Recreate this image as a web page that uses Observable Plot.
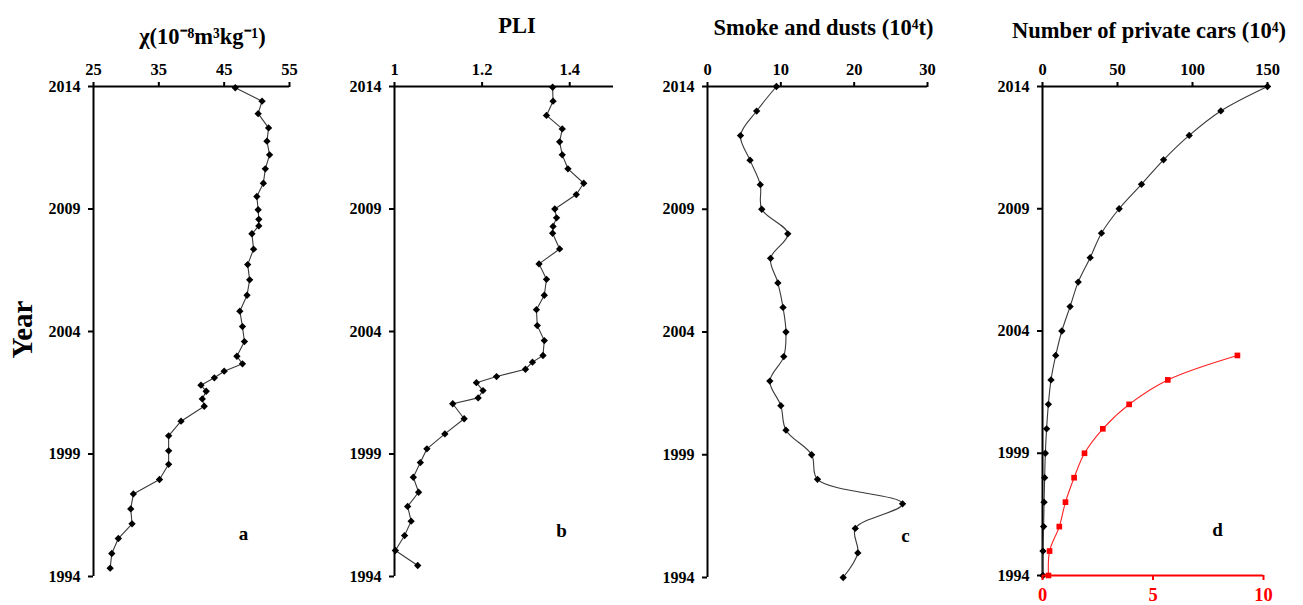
<!DOCTYPE html>
<html><head><meta charset="utf-8">
<script src="https://cdn.jsdelivr.net/npm/d3@7"></script>
<script src="https://cdn.jsdelivr.net/npm/@observablehq/plot@0.6"></script>
<style>
body{margin:0;background:#fff;}
#wrap{position:relative;width:1303px;height:605px;overflow:hidden;background:#fff;}
#wrap svg{position:absolute;top:0;max-width:none;}
</style></head><body><div id="wrap"></div>
<script>
// ---- data ----
const yearTicks = [1994, 1999, 2004, 2009, 2014];

const chiYears = [2013.95, 2013.4, 2012.89, 2012.31, 2011.77, 2011.21, 2010.64, 2010.05, 2009.51, 2008.97, 2008.58, 2008.31, 2007.99, 2007.36, 2006.73, 2006.11, 2005.48, 2004.83, 2004.2, 2003.59, 2002.99, 2002.68, 2002.38, 2002.11, 2001.81, 2001.56, 2001.25, 2000.95, 2000.34, 1999.74, 1999.13, 1998.58, 1997.96, 1997.37, 1996.76, 1996.15, 1995.55, 1994.94, 1994.34];
const chiValues = [46.7, 50.8, 50.2, 51.8, 51.55, 51.95, 51.3, 51.0, 50.0, 50.2, 50.3, 50.3, 49.25, 49.5, 48.6, 48.9, 48.5, 47.4, 47.8, 48.1, 46.95, 47.8, 45.0, 43.5, 41.45, 42.25, 41.65, 41.95, 38.4, 36.5, 36.5, 36.5, 35.1, 31.1, 30.7, 30.9, 28.8, 27.8, 27.55];
const chiTicks = [25, 35, 45, 55];

const pliYears = [2013.97, 2013.4, 2012.82, 2012.27, 2011.74, 2011.21, 2010.64, 2010.05, 2009.59, 2009.0, 2008.64, 2008.29, 2008.01, 2007.37, 2006.76, 2006.13, 2005.48, 2004.89, 2004.24, 2003.63, 2003.02, 2002.75, 2002.46, 2002.16, 2001.91, 2001.59, 2001.29, 2001.05, 2000.44, 1999.82, 1999.21, 1998.65, 1998.05, 1997.44, 1996.86, 1996.26, 1995.67, 1995.06, 1994.45];
const pliValues = [1.361, 1.362, 1.347, 1.383, 1.377, 1.383, 1.396, 1.432, 1.415, 1.366, 1.370, 1.362, 1.361, 1.377, 1.330, 1.347, 1.342, 1.324, 1.326, 1.342, 1.339, 1.315, 1.299, 1.233, 1.187, 1.202, 1.191, 1.133, 1.159, 1.115, 1.074, 1.059, 1.043, 1.055, 1.030, 1.038, 1.023, 1.002, 1.053];
const pliTicks = [1, 1.2, 1.4];

const smokeYears = [2014, 2013, 2012, 2011, 2010, 2009, 2008, 2007, 2006, 2005, 2004, 2003, 2002, 2001, 2000, 1999, 1998, 1997, 1996, 1995, 1994];
const smokeValues = [9.4, 6.7, 4.5, 5.8, 7.2, 7.4, 10.95, 8.6, 9.6, 10.3, 10.7, 10.4, 8.5, 10.0, 10.7, 14.2, 15.0, 26.6, 20.15, 20.5, 18.5];
const smokeTicks = [0, 10, 20, 30];

const carYears = [2014, 2013, 2012, 2011, 2010, 2009, 2008, 2007, 2006, 2005, 2004, 2003, 2002, 2001, 2000, 1999, 1998, 1997, 1996, 1995, 1994];
const carValues = [150, 118.9, 97.8, 80.7, 66.0, 51.1, 39.3, 31.8, 23.8, 18.4, 12.9, 8.82, 5.67, 3.92, 2.73, 1.90, 1.43, 1.04, 0.76, 0.32, 0.27];
const carTicks = [0, 50, 100, 150];

const carEarlyYears = [2003, 2002, 2001, 2000, 1999, 1998, 1997, 1996, 1995, 1994];
const carEarlyValues = [8.82, 5.67, 3.92, 2.73, 1.90, 1.43, 1.04, 0.76, 0.32, 0.27];
const carEarlyTicks = [0, 5, 10];

const titles = ["χ(10⁻⁸m³kg⁻¹)", "PLI", "Smoke and dusts (10⁴t)", "Number of private cars (10⁴)"];
const letters = ["a", "b", "c", "d"];
const yLabel = ["Year"];

// ---- drawing ----
const wrap = document.getElementById("wrap");
const FONT = "'Liberation Serif', 'Times New Roman', serif";
const rows = (ys, vs) => ys.map((y, i) => ({year: y, value: vs[i]}));

function panel(c) {
  const data = rows(c.years, c.values);
  const marks = [
    Plot.ruleX([c.domain[0]], {stroke: "black", strokeWidth: 2}),
    Plot.ruleY([2014], {stroke: "black", strokeWidth: 2}),
    Plot.axisX({anchor: "top", ticks: c.ticks, tickFormat: d => String(d), tickSize: 5, tickPadding: 7,
      strokeWidth: 2, fontSize: 16.5, fontWeight: "bold", label: null}),
    Plot.axisY({anchor: "left", ticks: yearTicks, tickFormat: d => String(d), tickSize: 5, tickPadding: 8,
      strokeWidth: 2, fontSize: 16, fontWeight: "bold", label: null}),
    Plot.line(data, {x: "value", y: "year", stroke: "#3a3a3a", strokeWidth: 1.1, curve: c.curve}),
    Plot.dot(data, {x: "value", y: "year", symbol: "diamond2", r: 3.3, fill: "black", stroke: "none"}),
    Plot.text([c.title], {text: d => d, frameAnchor: "top", textAnchor: "middle", lineAnchor: "middle",
      dx: c.tdx, dy: c.tdy, fontSize: 22.5, fontWeight: "bold"}),
    Plot.text([c.letter], {text: d => d, frameAnchor: "bottom-left", textAnchor: "middle", lineAnchor: "middle",
      dx: c.ldx, dy: c.ldy, fontSize: 19, fontWeight: "bold"})
  ];
  if (c.extra) marks.push(...c.extra);
  const svg = Plot.plot({
    width: c.width, height: 605,
    marginLeft: c.mL, marginRight: c.mR, marginTop: 86, marginBottom: c.mB,
    x: {domain: c.domain},
    y: {domain: [1994, 2014]},
    style: {fontFamily: FONT, background: "transparent", color: "black", overflow: "visible"},
    marks
  });
  svg.style.left = c.left + "px";
  wrap.appendChild(svg);
}

panel({left: 0, width: 310, mL: 93, mR: 21, mB: 29, domain: [25, 55], ticks: chiTicks,
  years: chiYears, values: chiValues, curve: "linear", title: titles[0], tdx: 11, tdy: -50,
  letter: letters[0], ldx: 150, ldy: -43,
  extra: [Plot.text(yLabel, {text: d => d, frameAnchor: "left", textAnchor: "middle", lineAnchor: "middle",
    rotate: -90, dx: -71, dy: -2, fontSize: 29, fontWeight: "bold"})]});

panel({left: 310, width: 320, mL: 84, mR: 17, mB: 29, domain: [1, 1.5], ticks: pliTicks,
  years: pliYears, values: pliValues, curve: "linear", title: titles[1], tdx: 13, tdy: -61,
  letter: letters[1], ldx: 167, ldy: -46});

panel({left: 630, width: 320, mL: 77, mR: 23, mB: 28, domain: [0, 30], ticks: smokeTicks,
  years: smokeYears, values: smokeValues, curve: "catmull-rom", title: titles[2], tdx: 6, tdy: -59,
  letter: letters[2], ldx: 198, ldy: -42});

panel({left: 950, width: 353, mL: 92, mR: 36, mB: 30, domain: [0, 150], ticks: carTicks,
  years: carYears, values: carValues, curve: "catmull-rom", title: titles[3], tdx: -6, tdy: -56,
  letter: letters[3], ldx: 175, ldy: -46});

// red overlay with its own x scale (0-10) on the bottom
{
  const data = rows(carEarlyYears, carEarlyValues);
  const svg = Plot.plot({
    width: 353, height: 605,
    marginLeft: 92, marginRight: 40, marginTop: 86, marginBottom: 30,
    x: {domain: [0, 10]},
    y: {domain: [1994, 2014], axis: null},
    style: {fontFamily: FONT, background: "transparent", overflow: "visible"},
    marks: [
      Plot.ruleY([1994], {stroke: "#ff0000", strokeWidth: 2}),
      Plot.axisX({anchor: "bottom", ticks: carEarlyTicks, tickFormat: d => String(d), tickSize: 5, tickPadding: 7,
        strokeWidth: 2, color: "#ff0000", fontSize: 18.5, fontWeight: "bold", label: null}),
      Plot.line(data, {x: "value", y: "year", stroke: "#ff2020", strokeWidth: 1.1, curve: "catmull-rom"}),
      Plot.dot(data, {x: "value", y: "year", symbol: "square", r: 3.2, fill: "#ff0000", stroke: "none"})
    ]
  });
  svg.style.left = "950px";
  wrap.appendChild(svg);
}
</script></body></html>
